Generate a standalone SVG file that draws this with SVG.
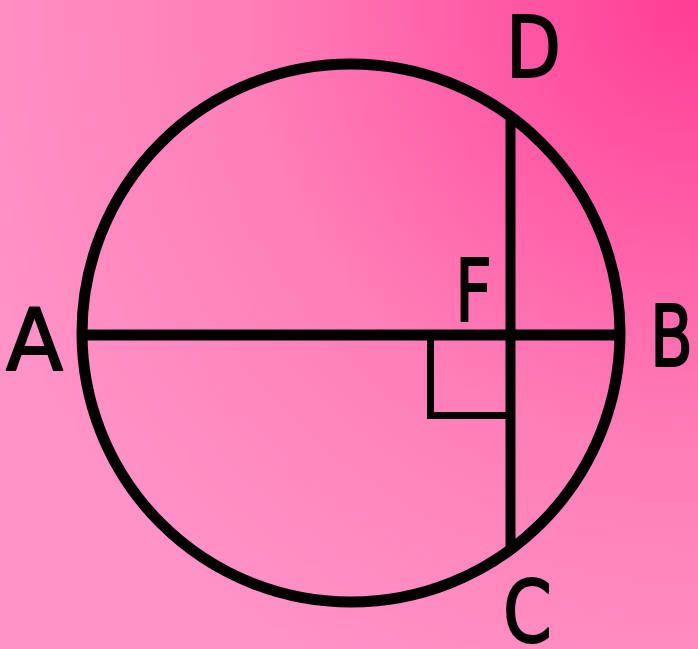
<svg xmlns="http://www.w3.org/2000/svg" width="698" height="649" viewBox="0 0 698 649">
<defs>
<radialGradient id="bg" gradientUnits="userSpaceOnUse" cx="698" cy="0" r="760">
<stop offset="0" stop-color="#FF3D96"/>
<stop offset="0.6" stop-color="#FF7FB8"/>
<stop offset="1" stop-color="#FF92C6"/>
</radialGradient>
<style>
.ln{stroke:#000;fill:none;}
.lbl{font-family:"Comic Sans MS","DejaVu Sans",sans-serif;font-size:86px;fill:#000;stroke:#000;stroke-width:2;stroke-linejoin:round;}
</style>
</defs>
<rect width="698" height="649" fill="url(#bg)"/>
<g id="connectors">
<circle id="circle" class="ln" cx="351" cy="333" r="269" stroke-width="11"/>
<line id="AB" class="ln" x1="83" y1="335" x2="619" y2="335" stroke-width="11"/>
<line id="DC" class="ln" x1="510.5" y1="116" x2="510.5" y2="553" stroke-width="10"/>
<polyline id="rightangle" class="ln" points="430.5,335 430.5,415.5 510,415.5" stroke-width="7"/>
</g>
<g id="A"><text class="lbl" x="6" y="370" textLength="57" lengthAdjust="spacingAndGlyphs">A</text></g>
<g id="B"><text class="lbl" x="650" y="366" textLength="43" lengthAdjust="spacingAndGlyphs">B</text></g>
<g id="D"><text class="lbl" x="506" y="77" textLength="55" lengthAdjust="spacingAndGlyphs">D</text></g>
<g id="C"><text class="lbl" x="503" y="642" textLength="49" lengthAdjust="spacingAndGlyphs">C</text></g>
<g id="F"><text class="lbl" x="455" y="321" textLength="37" lengthAdjust="spacingAndGlyphs">F</text></g>
</svg>
